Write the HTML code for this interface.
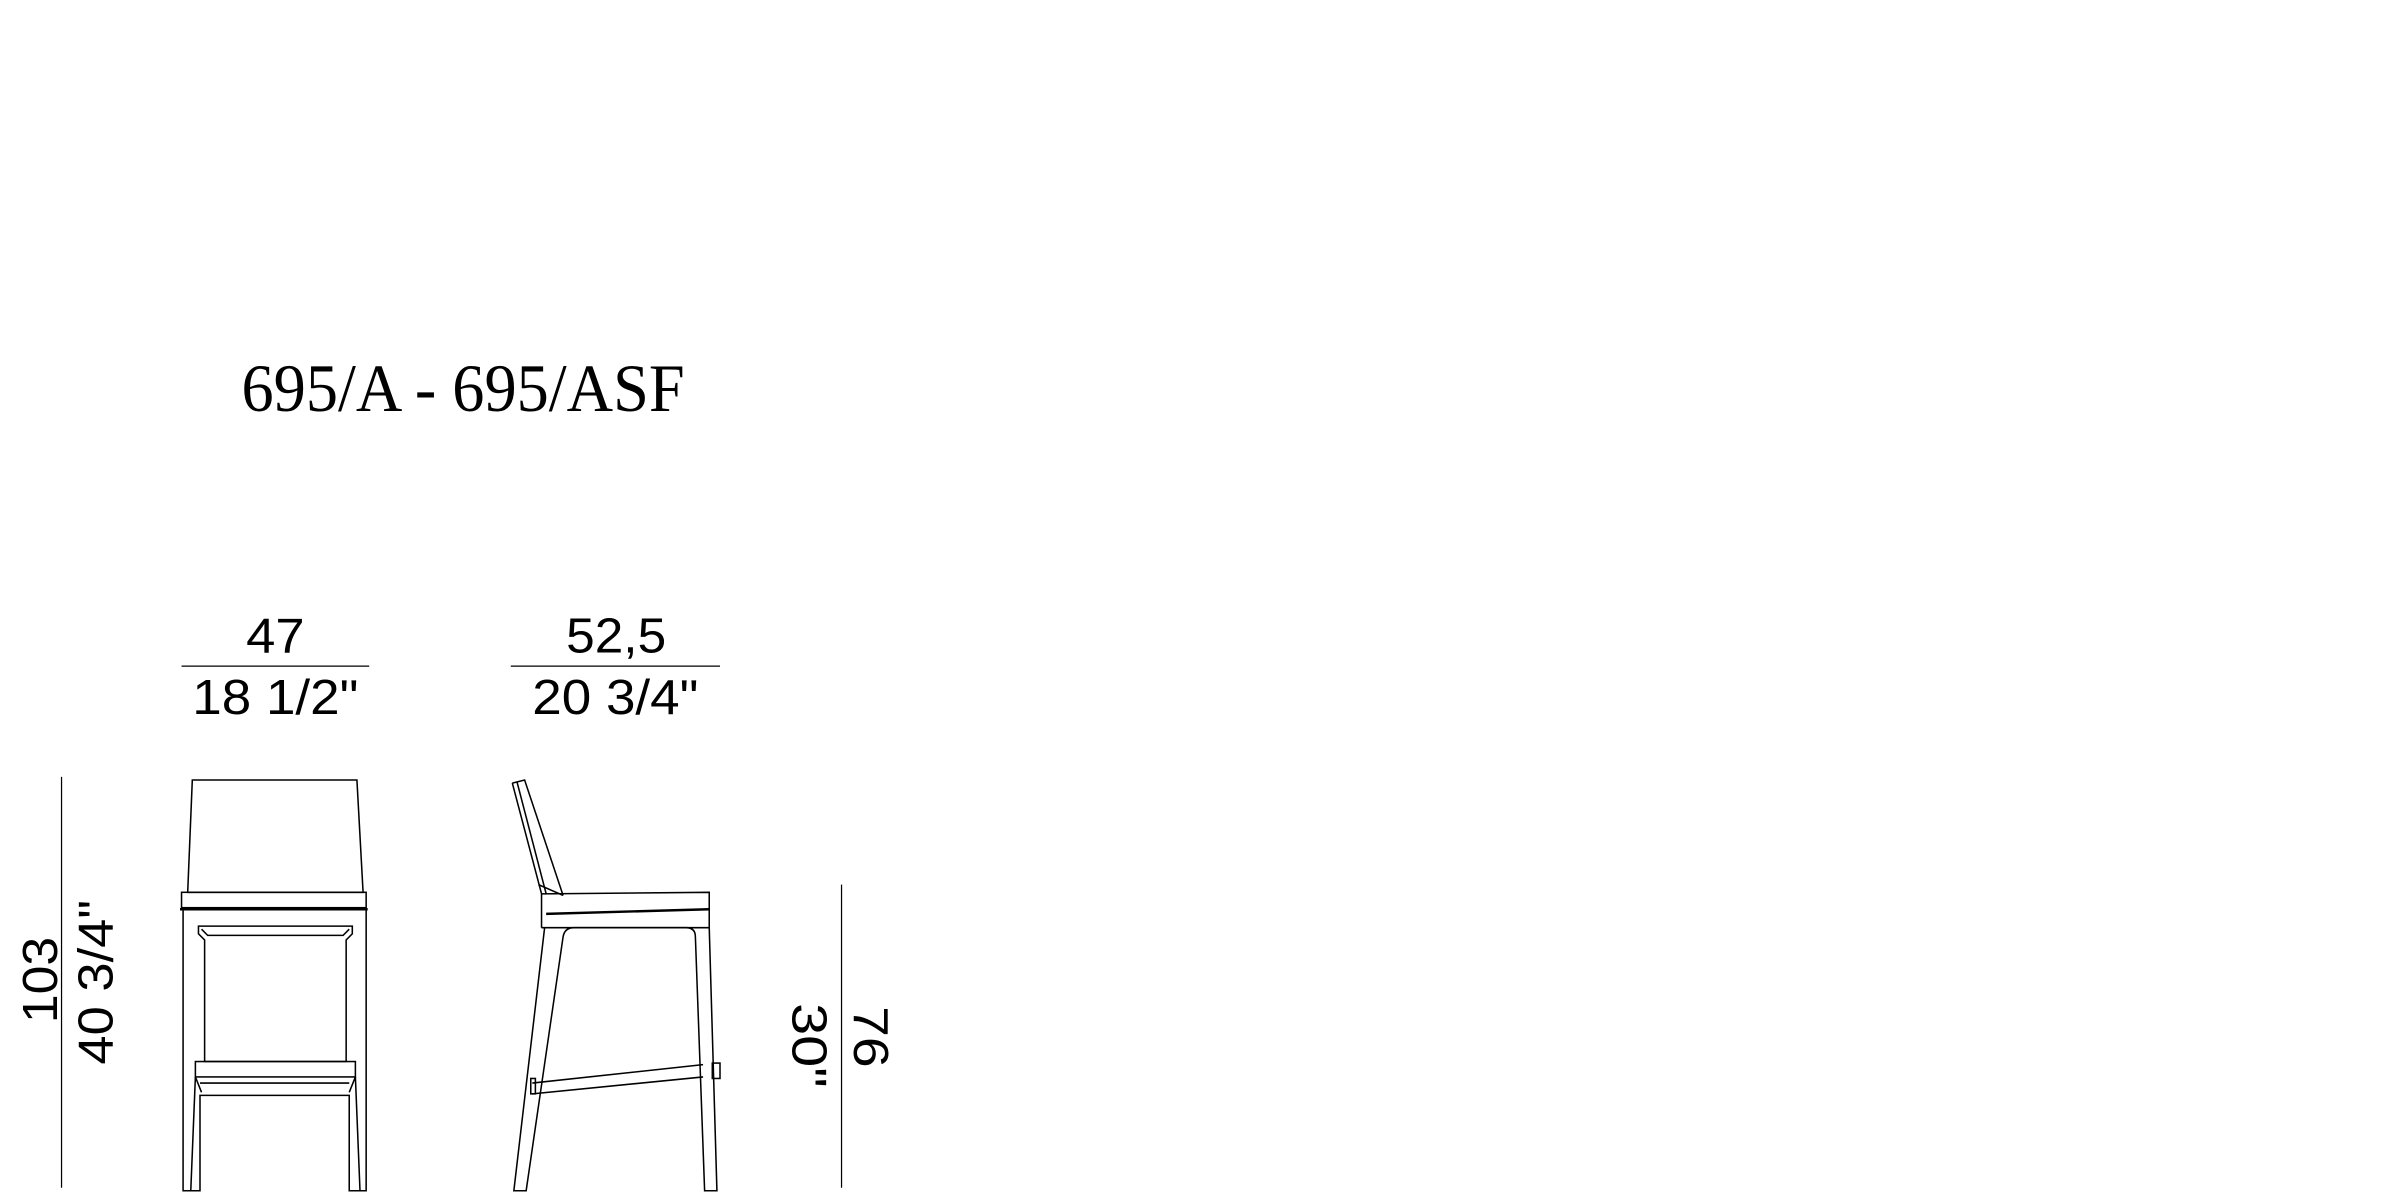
<!DOCTYPE html>
<html><head><meta charset="utf-8"><style>
html,body{margin:0;padding:0;background:#fff;width:2400px;height:1200px;overflow:hidden}
svg{position:absolute;left:0;top:0}
.t{font-family:"Liberation Sans",sans-serif;font-size:32px;fill:#000}
</style></head><body>
<svg width="2400" height="1200" viewBox="0 0 1560 780">
<g transform="translate(0,-3)">
<text x="157" y="270" style="font-family:'Liberation Serif',serif;font-size:44px" textLength="288" lengthAdjust="spacingAndGlyphs">695/A - 695/ASF</text>
<g fill="none" stroke="#000" stroke-width="1">
  <line x1="118" y1="436" x2="240" y2="436" stroke-width="0.8"/>
  <line x1="332" y1="436" x2="468" y2="436" stroke-width="0.8"/>
  <line x1="40" y1="508" x2="40" y2="775" stroke-width="0.8"/>
  <line x1="547" y1="578" x2="547" y2="775" stroke-width="0.8"/>
  <path d="M125 510 L232 510 L236 583 L122 583 Z"/>
  <rect x="118" y="583" width="120" height="10"/>
  <line x1="117" y1="594" x2="239" y2="594" stroke-width="1.6"/>
  <path d="M119 594 L119 777 L130 777 L130 715 L227 715 L227 777 L238 777 L238 594"/>
  <path d="M129 605 L229 605 L229 610 L225 614 L225 693 L133 693 L133 614 L129 610 Z"/>
  <path d="M131 607 L135 611 L223 611 L227 607"/>
  <rect x="127" y="693" width="104" height="10"/>
  <path d="M127 703 L131 713 M231 703 L227 713 M127 703 L124 777 M231 703 L234 777"/>
  <line x1="130" y1="707" x2="227" y2="707"/>
  <path d="M333 512 L341 510 L366 585"/>
  <path d="M333 512 L352 584 L352 606"/>
  <path d="M336 511 L355 584"/>
  <path d="M350 578 L366 585"/>
  <path d="M352 584 L461 583 L461 606 L352 606"/>
  <line x1="355" y1="597" x2="461" y2="594" stroke-width="1.6"/>
  <path d="M354 606 L334 777 L342 777 L366 612 Q367 606 373 606 L446 606 Q452 606 452 612 L458 777 L466 777 L461 606"/>
  <path d="M346 707 L457 695 M346 714 L457 703"/>
  <rect x="463" y="694" width="5" height="10"/>
  <rect x="345" y="704" width="3" height="10"/>
</g>
<g class="t">
  <text x="160" y="427" textLength="38" lengthAdjust="spacingAndGlyphs">47</text>
  <text x="125" y="467" textLength="108" lengthAdjust="spacingAndGlyphs">18 1/2"</text>
  <text x="368" y="427" textLength="65" lengthAdjust="spacingAndGlyphs">52,5</text>
  <text x="346" y="467" textLength="108" lengthAdjust="spacingAndGlyphs">20 3/4"</text>
  <text transform="translate(37,668) rotate(-90)" textLength="56" lengthAdjust="spacingAndGlyphs">103</text>
  <text transform="translate(73,695) rotate(-90)" textLength="107" lengthAdjust="spacingAndGlyphs">40 3/4"</text>
  <text transform="translate(555,657) rotate(90)" textLength="40" lengthAdjust="spacingAndGlyphs">76</text>
  <text transform="translate(515,655) rotate(90)" textLength="55" lengthAdjust="spacingAndGlyphs">30"</text>
</g>
</g>
</svg>
</body></html>
